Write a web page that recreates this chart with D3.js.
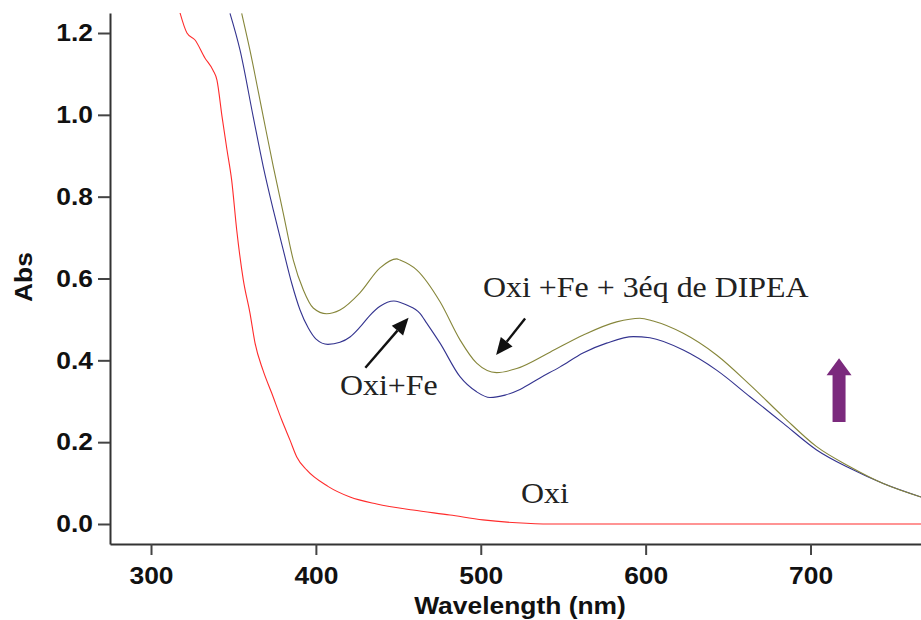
<!DOCTYPE html>
<html>
<head>
<meta charset="utf-8">
<script src="https://cdn.jsdelivr.net/npm/d3@7"></script>
<style>
html,body{margin:0;padding:0;background:#fff;}
svg{display:block;}
</style>
</head>
<body>
<svg id="chart" width="921" height="620"></svg>
<script>
// ---- Data ----
const oxiWl  = [317.6,321.8,326.7,332.7,337.6,340.0,343.1,346.1,348.9,352.0,356.0,360.0,363.1,367.9,373.2,379.3,384.3,388.4,394.4,407.3,420.7,436.9,458.9,481.3,501.3,521.8,542.0,600,650,700,767];
const oxiAbs = [1.249,1.200,1.183,1.139,1.109,1.085,0.995,0.914,0.841,0.718,0.596,0.516,0.442,0.376,0.320,0.254,0.205,0.164,0.132,0.092,0.066,0.049,0.034,0.022,0.010,0.003,0.000,0.000,0.000,0.000,0.000];

const feWl  = [347.9,354.0,362.0,368.1,374.2,380.2,385.3,390.4,395.4,400.1,407.3,414.6,420.7,426.7,432.8,438.9,447.3,455.1,463.1,467.2,475.3,487.4,497.5,505.6,514.7,523.8,535.9,548.1,562.0,576.3,592.5,602.6,622.8,643.0,663.3,683.5,703.7,723.9,744.1,767.0];
const feAbs = [1.248,1.158,0.995,0.873,0.767,0.670,0.589,0.523,0.479,0.452,0.439,0.444,0.457,0.481,0.510,0.532,0.545,0.535,0.515,0.491,0.442,0.360,0.323,0.309,0.315,0.329,0.357,0.384,0.418,0.442,0.458,0.455,0.425,0.376,0.311,0.246,0.181,0.136,0.099,0.066];

const dipeaWl  = [355.0,360.0,368.1,374.2,380.2,386.3,392.4,398.4,406.5,414.6,426.7,438.9,449.0,451.0,461.1,475.3,487.4,497.5,509.6,521.8,542.0,562.2,582.4,596.5,604.6,622.8,643.0,663.3,683.5,703.7,723.9,744.1,767.0];
const dipeaAbs = [1.248,1.158,0.995,0.873,0.760,0.645,0.572,0.528,0.514,0.523,0.565,0.626,0.648,0.645,0.621,0.543,0.450,0.393,0.370,0.380,0.420,0.462,0.494,0.503,0.496,0.466,0.413,0.340,0.262,0.189,0.140,0.099,0.066];

const xTicks = [300,400,500,600,700];
const yTicks = [0.0,0.2,0.4,0.6,0.8,1.0,1.2];
const xTitle = "Wavelength (nm)";
const yTitle = "Abs";

const seriesNames  = ["Oxi","Oxi+Fe","Oxi +Fe + 3éq de DIPEA"];
const seriesColors = ["#ff2b2b","#33338f","#86863a"];

// ---- Layout ----
const svg = d3.select("#chart");
const plotLeft = 110, plotRight = 921, plotTop = 13, plotBottom = 544;
const stretch = 1.1; // the reference text is horizontally stretched

const x = d3.scaleLinear().domain([275.13, 767.0]).range([plotLeft, plotRight]);
const y = d3.scaleLinear().domain([-0.0489, 1.2489]).range([plotBottom, plotTop]);

svg.append("defs").append("clipPath").attr("id","plotclip")
  .append("rect").attr("x",plotLeft).attr("y",plotTop).attr("width",plotRight-plotLeft).attr("height",plotBottom-plotTop);

const series = [
  {wl: oxiWl, ab: oxiAbs},
  {wl: feWl, ab: feAbs},
  {wl: dipeaWl, ab: dipeaAbs}
];

const line = d3.line().x(d=>x(d[0])).y(d=>y(d[1])).curve(d3.curveMonotoneX);

const gLines = svg.append("g").attr("clip-path","url(#plotclip)");
series.forEach((s,i)=>{
  const pts = s.wl.map((w,j)=>[w, s.ab[j]]);
  gLines.append("path").datum(pts)
    .attr("d", line)
    .attr("fill","none")
    .attr("stroke", seriesColors[i])
    .attr("stroke-width", 1.1);
});

// ---- Axes ----
const axisFont = "'Liberation Sans', Arial, Helvetica, sans-serif";
const yAxis = svg.append("g").attr("transform",`translate(${plotLeft},0)`)
  .call(d3.axisLeft(y).tickValues(yTicks).tickFormat(d3.format(".1f")).tickSize(12).tickPadding(5).tickSizeOuter(0));
const xAxis = svg.append("g").attr("transform",`translate(0,${plotBottom})`)
  .call(d3.axisBottom(x).tickValues(xTicks).tickFormat(d3.format("d")).tickSize(11).tickSizeOuter(0));

[yAxis,xAxis].forEach(g=>{
  g.select(".domain").attr("stroke","#333").attr("stroke-width",2);
  g.selectAll(".tick line").attr("stroke","#444").attr("stroke-width",2);
  g.selectAll(".tick text").attr("fill","#111").style("font-family",axisFont)
    .style("font-weight","bold").style("font-size","24px");
});
xAxis.selectAll(".tick text").attr("dy",null).attr("y",40)
  .attr("transform",`scale(${stretch},1)`);
yAxis.selectAll(".tick text").attr("x",-17/stretch)
  .attr("transform",`scale(${stretch},1)`);

svg.append("text").attr("transform",`translate(520,614) scale(${stretch},1)`)
  .attr("text-anchor","middle").style("font-family",axisFont).style("font-weight","bold")
  .style("font-size","24px").attr("fill","#111").text(xTitle);

svg.append("text").attr("transform",`translate(32,277) rotate(-90) scale(${stretch},1)`)
  .attr("text-anchor","middle").style("font-family",axisFont).style("font-weight","bold")
  .style("font-size","24px").attr("fill","#111").text(yTitle);

// ---- Annotations (positioned in data units) ----
const serif = "'Liberation Serif', 'Times New Roman', Times, serif";
const labels = [
  {text: seriesNames[2], wl: 501.4, ab: 0.5547},
  {text: seriesNames[1], wl: 414.6, ab: 0.315},
  {text: seriesNames[0], wl: 524.4, ab: 0.0513}
];
labels.forEach(l=>{
  svg.append("text").attr("transform",`translate(${x(l.wl)},${y(l.ab)}) scale(${stretch},1)`)
    .style("font-family",serif).style("font-size","29px").attr("fill","#222").text(l.text);
});

// black arrows: tail -> tip (data units)
const arrows = [
  {from:[430.0, 0.382], to:[456.2, 0.504]},
  {from:[526.9, 0.502], to:[509.3, 0.413]}
];
arrows.forEach(a=>{
  const x1=x(a.from[0]), y1=y(a.from[1]), x2=x(a.to[0]), y2=y(a.to[1]);
  const ang = Math.atan2(y2-y1, x2-x1);
  const hl = 17, hw = 7.5;
  const bx = x2 - hl*Math.cos(ang), by = y2 - hl*Math.sin(ang);
  svg.append("line").attr("x1",x1).attr("y1",y1).attr("x2",bx).attr("y2",by)
    .attr("stroke","#111").attr("stroke-width",2.4);
  const px = -Math.sin(ang), py = Math.cos(ang);
  svg.append("path")
    .attr("d",`M${x2},${y2}L${bx+hw*px},${by+hw*py}L${bx-hw*px},${by-hw*py}Z`)
    .attr("fill","#111");
});

// purple up-arrow
const up = {wl: 717.3, abBase: 0.249, abTip: 0.405};
{
  const cx = x(up.wl), yb = y(up.abBase), yt = y(up.abTip);
  const headH = 17, headW = 12.5, shaftW = 6.5;
  svg.append("path")
    .attr("d",`M${cx},${yt}L${cx+headW},${yt+headH}L${cx+shaftW},${yt+headH}L${cx+shaftW},${yb}L${cx-shaftW},${yb}L${cx-shaftW},${yt+headH}L${cx-headW},${yt+headH}Z`)
    .attr("fill","#7b2a7d");
}
</script>
</body>
</html>
